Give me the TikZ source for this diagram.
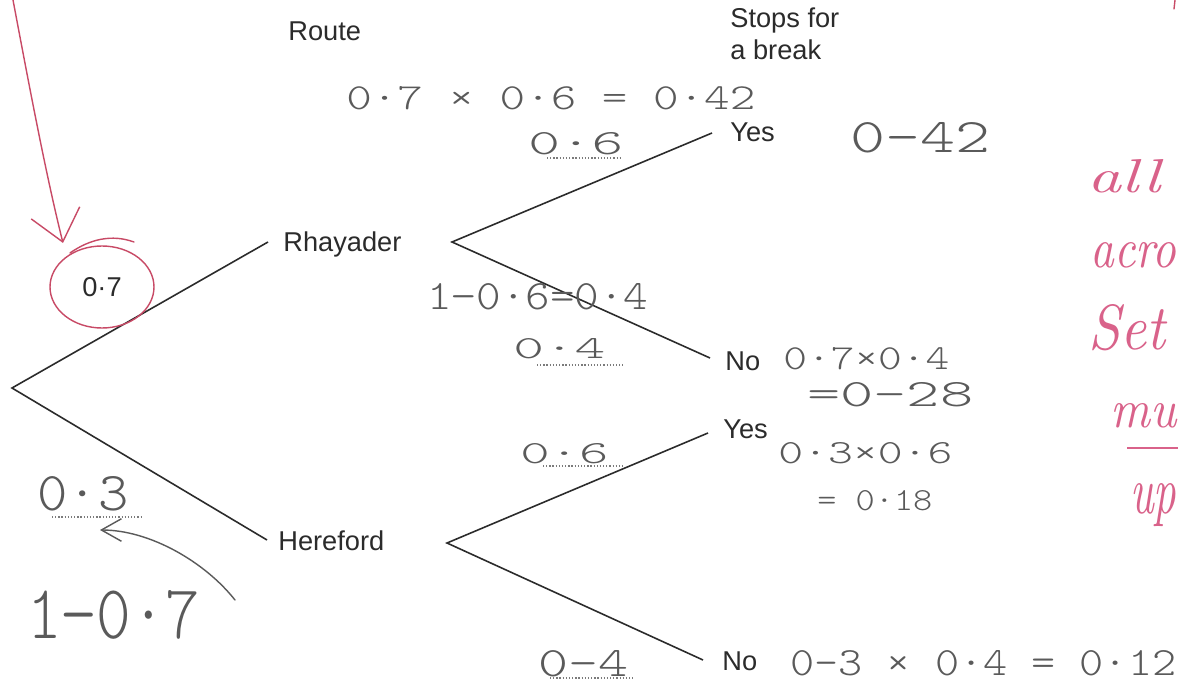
\documentclass[tikz,border=0pt]{standalone}
\usepackage{fontspec}
\usepackage{graphicx}
\usetikzlibrary{arrows.meta,shapes.geometric}
\newfontfamily\printfont{Liberation Sans}
\newfontfamily\handfont{lmmonolt10-regular.otf}
\newdimen\pxu \pxu=0.02cm
\newcommand\hw[3]{\resizebox{#1\pxu}{#2\pxu}{\handfont #3}}
\newcommand\pw[3]{\resizebox{#1\pxu}{#2\pxu}{\itshape #3}}
\definecolor{ink}{HTML}{2B2B2B}
\definecolor{pencil}{HTML}{5A5A5A}
\definecolor{pinkink}{HTML}{D9628A}
\definecolor{redink}{HTML}{C84A66}
\tikzset{
  branch/.style={draw=ink, line width=0.9pt},
  lbl/.style={font=\printfont\fontsize{15.5pt}{18pt}\selectfont, text=ink, inner sep=0pt, anchor=base west},
  hand/.style={text=pencil, inner sep=0pt, anchor=base west},
  pinktxt/.style={text=pinkink, inner sep=0pt, anchor=base west},
  dotline/.style={draw=pencil!80, line width=0.6pt, dash pattern=on 0.7pt off 1.1pt},
  redline/.style={draw=redink, line width=0.8pt, line cap=round},
  pencilline/.style={draw=pencil, line width=0.8pt, line cap=round},
  ringnode/.style={ellipse, draw=redink, line width=0.8pt, minimum width=104\pxu, minimum height=82\pxu, inner sep=0pt,
    font=\printfont\fontsize{15.5pt}{18pt}\selectfont, text=ink}
}
\begin{document}
\begin{tikzpicture}[x=0.02cm,y=-0.02cm]
\useasboundingbox[fill=white] (0,0) rectangle (1180,689);

% ---- tree points
\coordinate (root) at (12,388);
\coordinate (rhE) at (268,242);
\coordinate (heE) at (267,540);
\coordinate (rhV) at (452,242);
\coordinate (heV) at (447,543);
\coordinate (y1E) at (712,133);
\coordinate (n1E) at (710,358);
\coordinate (y2E) at (708,433);
\coordinate (n2E) at (703,660);

\draw[branch] (rhE) -- (root) -- (heE);
\draw[branch] (y1E) -- (rhV) -- (n1E);
\draw[branch] (y2E) -- (heV) -- (n2E);

% ---- printed labels
\node[lbl] (route) at (288,41) {Route};
\node[lbl] (stops1) at (730,28) {Stops for};
\node[lbl] (stops2) at (730,60) {a break};
\node[lbl] (rhay) at (283,252) {Rhayader};
\node[lbl] (here) at (278,550) {Hereford};
\node[lbl] (yes1) at (730,142) {Yes};
\node[lbl] (no1) at (725,370) {No};
\node[lbl] (yes2) at (723,438) {Yes};
\node[lbl] (no2) at (722,670) {No};

% ---- red ring and arrow
\node[ringnode] (c07) at (102,287) {0·7};
\draw[redline] (70,253) .. controls (90,239) and (112,234) .. (134,242);
\coordinate (pinkStart) at (13,0);
\coordinate (pinkTip) at (63,243);
\draw[redline, -{Straight Barb[length=0.6cm,width=1cm]}] (pinkStart) .. controls (30,90) and (46,175) .. (pinkTip);

% ---- handwritten working (pencil)
\node[hand] (w1) at (346,110) {\hw{409}{23}{0·7 × 0·6 = 0·42}};
\node[hand] (p1) at (528,155) {\hw{95}{22}{0·6}};
\node[hand] (r1) at (850,153) {\hw{140}{30}{0-42}};
\node[hand] (w2) at (427,310) {\hw{221}{26}{1−0·6=0·4}};
\node[hand] (p2) at (513,358) {\hw{92}{20}{0·4}};
\node[hand] (w3) at (783,369) {\hw{166}{22}{0·7×0·4}};
\node[hand] (r3) at (807,406) {\hw{166}{24}{=0-28}};
\node[hand] (p3) at (520,463) {\hw{88}{20}{0·6}};
\node[hand] (w4) at (778,463) {\hw{174}{21}{0·3×0·6}};
\node[hand] (r4) at (817,510) {\hw{115}{20}{= 0·18}};
\node[hand] (p4) at (538,676) {\hw{90}{26}{0-4}};
\node[hand] (w5) at (790,675) {\hw{386}{25}{0-3 × 0·4 = 0·12}};
\node[hand] (p5) at (37,510) {\hw{91}{34}{0·3}};
\node[hand] (w6) at (27,638) {\hw{173}{48}{1−0·7}};

% dotted answer lines
\draw[dotline] (547,158) -- (622,158);
\draw[dotline] (537,365) -- (623,365);
\draw[dotline] (543,466) -- (623,466);
\draw[dotline] (550,678) -- (635,678);
\draw[dotline] (52,517) -- (143,517);

% pencil arrow
\coordinate (arcStart) at (235,600);
\coordinate (arcTip) at (100,530);
\draw[pencilline, -{Straight Barb[length=0.4cm,width=0.45cm]}] (arcStart) .. controls (205,562) and (150,530) .. (arcTip);

% ---- pink note at right edge
\node[pinktxt] (n1) at (1087,193) {\pw{73}{33}{all}};
\node[pinktxt] (n2) at (1090,268) {\pw{86}{25}{acro}};
\node[pinktxt] (n3) at (1088,350) {\pw{77}{45}{Set}};
\node[pinktxt] (n4) at (1110,427) {\pw{66}{24}{mu}};
\node[pinktxt] (n5) at (1130,513) {\pw{46}{30}{up}};
\draw[draw=pinkink, line width=0.8pt] (1127,448) -- (1178,448);
\draw[redline] (1175,0) -- (1174,9);
\end{tikzpicture}
\end{document}
